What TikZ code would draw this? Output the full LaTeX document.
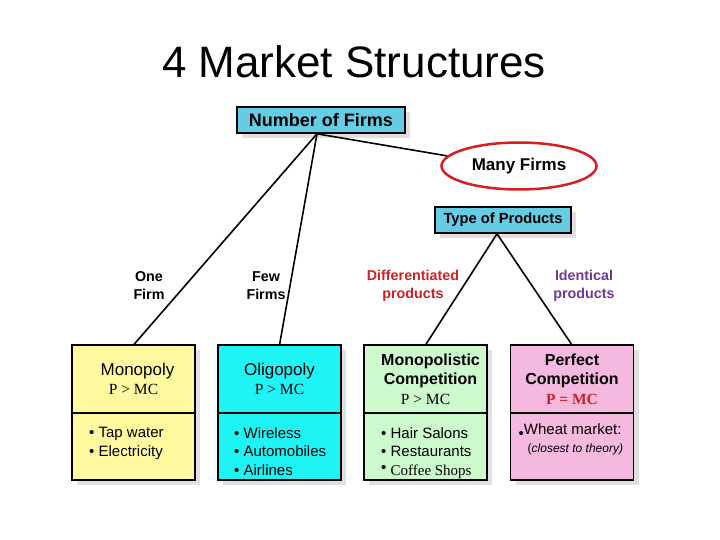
\documentclass[tikz,border=0pt]{standalone}
\usepackage{fontspec}
\setmainfont{Liberation Sans}
\newfontfamily\timesfont{Liberation Serif}
\usetikzlibrary{positioning,shapes.geometric,shadows}
\definecolor{sky}{HTML}{66CCE4}
\definecolor{lemon}{HTML}{FFF9A0}
\definecolor{aqua}{HTML}{1EF4F4}
\definecolor{mint}{HTML}{CCFACC}
\definecolor{rose}{HTML}{F5B8DE}
\definecolor{brick}{HTML}{CC2222}
\definecolor{plum}{HTML}{6E3A96}
\definecolor{ring}{HTML}{D42020}

\begin{document}
\begin{tikzpicture}[x=1pt,y=-1pt,
  shade box/.style={drop shadow={shadow xshift=5pt,shadow yshift=-5pt,fill=black!12,opacity=1}},
  hdr/.style={draw=black,line width=1.6pt,fill=sky,minimum height=26pt,inner sep=0pt,shade box,
    font=\fontsize{18}{20}\selectfont\bfseries},
  cell/.style={draw=black,line width=1.8pt,minimum width=123pt,inner sep=0pt,outer sep=0pt,align=center,shade box},
  market/.style={font=\fontsize{17}{19}\selectfont},
  bold market/.style={font=\fontsize{16}{19.5}\selectfont\bfseries},
  items/.style={anchor=north west,align=left,inner sep=0pt,font=\fontsize{15}{18.5}\selectfont},
  lbl/.style={align=center,inner sep=0pt,font=\fontsize{14.3}{18}\selectfont\bfseries},
  wire/.style={line width=1.6pt}]
\useasboundingbox (0,0) rectangle (720,540);
\node[font=\fontsize{44}{50}\selectfont] (title) at (354,62) {4 Market Structures};
\node[hdr,minimum width=168pt] (nof) at (321,120) {Number of Firms};
\node[ellipse,draw=ring,line width=2.5pt,minimum width=155pt,minimum height=47pt,inner sep=0pt,
  font=\fontsize{17}{20}\selectfont\bfseries] (many) at (519,166) {Many Firms};
\node[hdr,minimum width=136pt,font=\fontsize{14.7}{16}\selectfont\bfseries] (top) at (503,220) {Type of Products};

\node[lbl] (one) at (149,286) {One\\Firm};
\node[lbl] (few) at (266,286) {Few\\Firms};
\node[lbl,text=brick] (diff) at (413,286) {Differentiated\\products};
\node[lbl,text=plum] (iden) at (584,286) {Identical\\products};

\node[cell,fill=lemon,minimum height=68pt,market] (monoT) at (133.5,379) {\hspace*{8pt}Monopoly\\{\timesfont\fontsize{15.5}{19}\selectfont P > MC}};
\node[cell,fill=lemon,minimum height=67pt,below=0pt of monoT] (monoB) {};
\node[items] (monoL) at ([xshift=17pt,yshift=-14pt]monoB.north west) {• Tap water\\• Electricity};

\node[cell,fill=aqua,minimum height=68pt,market] (oligT) at (279.5,379) {Oligopoly\\{\timesfont\fontsize{15.5}{19}\selectfont P > MC}};
\node[cell,fill=aqua,minimum height=67pt,below=0pt of oligT] (oligB) {};
\node[items] (oligL) at ([xshift=16pt,yshift=-14pt]oligB.north west) {• Wireless\\• Automobiles\\• Airlines};

\node[cell,fill=mint,minimum height=68pt,bold market] (mcT) at (425.5,379) {\hspace*{10pt}Monopolistic\\\hspace*{10pt}Competition\\{\mdseries\timesfont\fontsize{15.5}{19.5}\selectfont P > MC}};
\node[cell,fill=mint,minimum height=67pt,below=0pt of mcT] (mcB) {};
\node[items] (mcL) at ([xshift=17pt,yshift=-14pt]mcB.north west) {• Hair Salons\\• Restaurants\\{\raisebox{0.2em}{•}} {\timesfont Coffee Shops}};

\node[cell,fill=rose,minimum height=68pt,bold market] (pcT) at (572,379) {Perfect\\Competition\\{\timesfont\color{brick}\fontsize{15.5}{19.5}\selectfont P = MC}};
\node[cell,fill=rose,minimum height=67pt,below=0pt of pcT] (pcB) {};
\node[items] (pcL) at ([xshift=8pt,yshift=-10pt]pcB.north west) {{\raisebox{-0.3em}{•}}Wheat market:\\\hspace*{9pt}{\fontsize{12}{18.5}\selectfont(\itshape closest to theory)}};

\draw[wire] ([xshift=-4pt]nof.south) -- (monoT.north);
\draw[wire] ([xshift=-4pt]nof.south) -- (oligT.north);
\draw[wire] ([xshift=-4pt]nof.south) -- (many.172);
\draw[wire] ([xshift=-6pt]top.south) -- (mcT.north);
\draw[wire] ([xshift=-6pt]top.south) -- (pcT.north);
\end{tikzpicture}
\end{document}
